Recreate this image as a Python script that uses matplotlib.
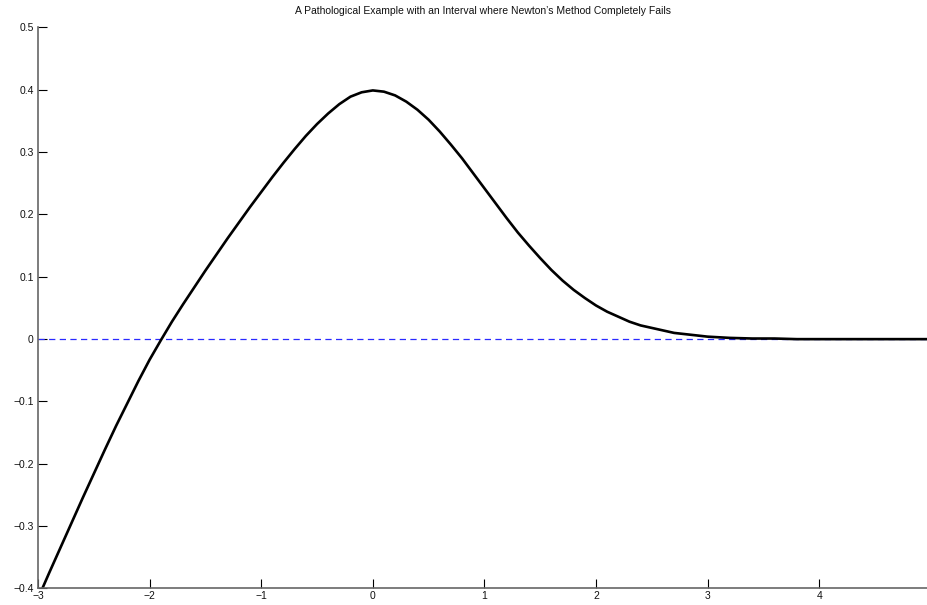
import numpy as np
import matplotlib
matplotlib.use('Agg')
import matplotlib.pyplot as plt

# curve
x_vals = [-3.0, -2.9, -2.8, -2.7, -2.6, -2.5, -2.4, -2.3, -2.2, -2.1,
          -2.0, -1.9, -1.8, -1.7, -1.6, -1.5, -1.4, -1.3, -1.2, -1.1,
          -1.0, -0.9, -0.8, -0.7, -0.6, -0.5, -0.4, -0.3, -0.2, -0.1,
          0.0, 0.1, 0.2, 0.3, 0.4, 0.5, 0.6, 0.7, 0.8, 0.9,
          1.0, 1.1, 1.2, 1.3, 1.4, 1.5, 1.6, 1.7, 1.8, 1.9,
          2.0, 2.1, 2.2, 2.3, 2.4, 2.5, 2.6, 2.7, 2.8, 2.9,
          3.0, 3.2, 3.4, 3.6, 3.8, 4.0, 4.5, 4.97]
y_vals = [-0.416, -0.375, -0.335, -0.295, -0.255, -0.216, -0.177, -0.139, -0.103, -0.067,
          -0.033, -0.002, 0.028, 0.056, 0.083, 0.110, 0.136, 0.162, 0.187, 0.212,
          0.236, 0.260, 0.283, 0.305, 0.326, 0.345, 0.362, 0.377, 0.389, 0.396,
          0.399, 0.397, 0.391, 0.381, 0.368, 0.352, 0.333, 0.312, 0.290, 0.266,
          0.242, 0.218, 0.194, 0.171, 0.150, 0.130, 0.111, 0.094, 0.079, 0.066,
          0.054, 0.044, 0.036, 0.028, 0.022, 0.018, 0.014, 0.010, 0.008, 0.006,
          0.004, 0.002, 0.001, 0.001, 0.0, 0.0, 0.0, 0.0]

xticks = [-3, -2, -1, 0, 1, 2, 3, 4]
yticks = [-0.4, -0.3, -0.2, -0.1, 0, 0.1, 0.2, 0.3, 0.4, 0.5]
title = "A Pathological Example with an Interval where Newton\u2019s Method Completely Fails"

plt.rcParams['font.family'] = ['Liberation Sans', 'DejaVu Sans']

fig = plt.figure(figsize=(9.27, 6.05), dpi=100)
ax = fig.add_axes([0.041, 0.0273, 0.959, 0.9273])

ax.axhline(0, color='#2a2aff', lw=0.9, ls=(0, (5, 3.5)))
ax.plot(x_vals, y_vals, color='black', lw=1.9,
        solid_joinstyle='round', solid_capstyle='round')

ax.set_xlim(-3, 4.966)
ax.set_ylim(-0.4, 0.5)

ax.set_xticks(xticks)
ax.set_xticklabels([('%g' % t).replace('-', '\u2212') for t in xticks])
ax.set_yticks(yticks)
ax.set_yticklabels([('%g' % t).replace('-', '\u2212') for t in yticks])
ax.tick_params(direction='in', length=6.5, width=0.8, labelsize=7.5,
               color='black', labelcolor='#111111')
ax.tick_params(axis='x', pad=2)
ax.tick_params(axis='y', pad=3)

for s in ['top', 'right']:
    ax.spines[s].set_visible(False)
for s in ['left', 'bottom']:
    ax.spines[s].set_color('#666666')
    ax.spines[s].set_linewidth(1.2)

ax.set_title(title, fontsize=7.5, pad=10, color='#111111')

fig.savefig('out.png', dpi=100)
